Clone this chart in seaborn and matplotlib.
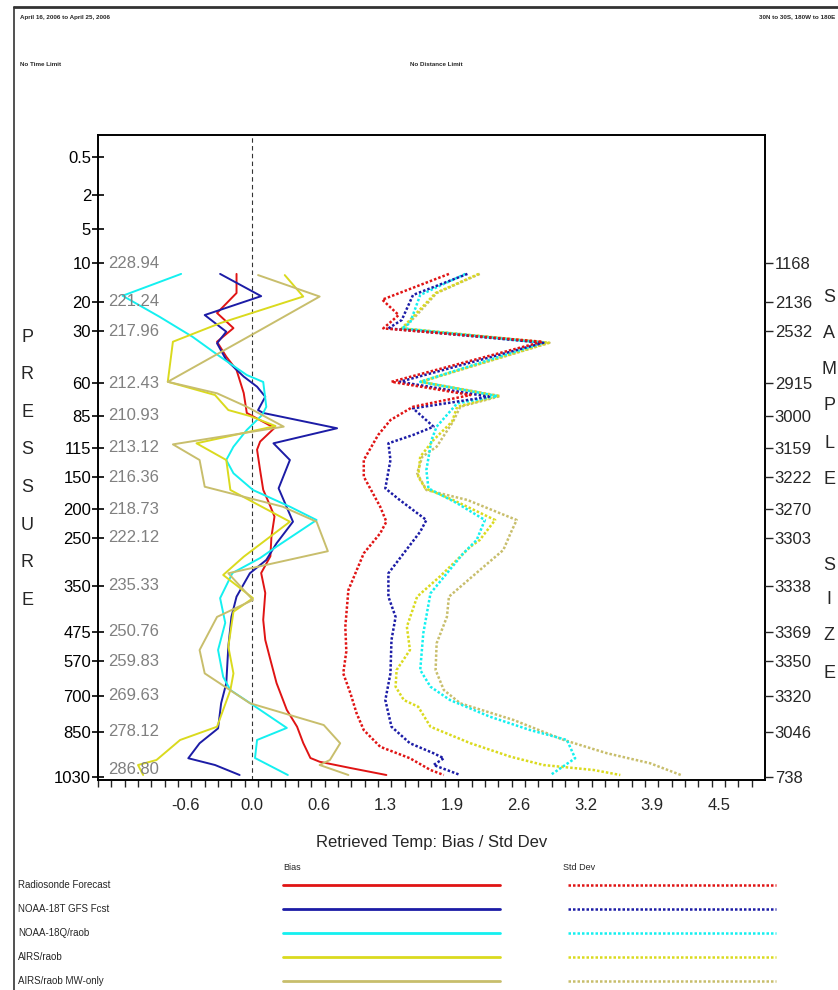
import numpy as np
import pandas as pd
import matplotlib
matplotlib.use("Agg")
import matplotlib.pyplot as plt
import seaborn as sns
from matplotlib.lines import Line2D
from matplotlib.ticker import FixedLocator, FixedFormatter

# pressure levels labelled on the axis, mean temperature and sample size per level
LEVELS = [0.5, 2, 5, 10, 20, 30, 60, 85, 115, 150, 200, 250, 350, 475, 570, 700, 850, 1030]
TEMP_LEVELS = [10, 20, 30, 60, 85, 115, 150, 200, 250, 350, 475, 570, 700, 850, 1030]
MEAN_TEMP = ["228.94", "221.24", "217.96", "212.43", "210.93", "213.12", "216.36", "218.73",
             "222.12", "235.33", "250.76", "259.83", "269.63", "278.12", "286.80"]
SAMPLE_SIZE = [1168, 2136, 2532, 2915, 3000, 3159, 3222, 3270, 3303, 3338, 3369, 3350, 3320, 3046, 738]

SERIES = ["Radiosonde Forecast", "NOAA-18T GFS Fcst", "NOAA-18Q/raob", "AIRS/raob", "AIRS/raob MW-only"]
COLORS = ["#e01414", "#1c1ca6", "#14f0f0", "#dada1e", "#c8be6c"]

X_TICKS = [-1.3, -0.65, 0.0, 0.65, 1.3, 1.95, 2.6, 3.25, 3.9, 4.55]
X_LABELS = ["", "-0.6", "0.0", "0.6", "1.3", "1.9", "2.6", "3.2", "3.9", "4.5"]

# ---- bias profiles (hPa, K) ----
rf_bias_p = [12.8, 17.7, 23.8, 29, 36.2, 44.8, 52.5, 67.6, 82.7, 96.2, 109, 117, 142, 170, 196, 213,
             248, 288, 323, 369, 442, 501, 566, 652, 758, 828, 894, 954, 969, 994, 1022]
rf_bias = [-0.15, -0.15, -0.34, -0.18, -0.34, -0.25, -0.15, -0.08, -0.05, 0.22, 0.08, 0.05, 0.08, 0.11,
           0.18, 0.22, 0.19, 0.18, 0.09, 0.13, 0.11, 0.13, 0.18, 0.24, 0.34, 0.44, 0.50, 0.57, 0.66, 0.96, 1.31]

gfs_bias_p = [12.8, 18.5, 24.5, 30.4, 37.1, 46.7, 56.3, 62.8, 70.4, 80.5, 82.7, 96.5, 110.6, 129.5, 167.7,
              221.9, 261, 295.8, 323.5, 379, 434, 523, 653, 730, 835, 895, 955, 982, 1022]
gfs_bias = [-0.31, 0.09, -0.46, -0.25, -0.34, -0.25, -0.08, 0.05, 0.13, 0.06, 0.11, 0.83, 0.21, 0.37, 0.26,
            0.40, 0.24, 0.14, -0.02, -0.15, -0.20, -0.23, -0.25, -0.30, -0.33, -0.51, -0.62, -0.36, -0.12]

n18q_bias_p = [12.8, 18.4, 25.1, 33.3, 44.8, 55.4, 59.4, 78, 84.2, 98.1, 113.8, 129.5, 145.5, 170.3, 196.4,
               219, 268, 291.7, 323, 383, 450, 534, 629, 678, 729, 833, 882, 954, 1022]
n18q_bias = [-0.69, -1.26, -0.90, -0.58, -0.31, -0.05, 0.11, 0.14, 0.10, -0.05, -0.18, -0.25, -0.18, 0.01, 0.37,
             0.63, 0.24, 0.08, -0.19, -0.31, -0.26, -0.33, -0.28, -0.21, -0.02, 0.34, 0.05, 0.03, 0.35]

airs_bias_p = [13.1, 18.6, 27.3, 36.2, 59.3, 69.1, 80.5, 85, 94.4, 110.6, 129.5, 170.3, 221.9, 289, 327,
               383, 420, 523, 616, 678, 828, 882, 962, 982, 1022]
airs_bias = [0.32, 0.50, -0.31, -0.77, -0.82, -0.36, -0.23, -0.02, 0.23, -0.54, -0.25, -0.21, 0.37, -0.08, -0.28,
             0.01, -0.18, -0.23, -0.18, -0.21, -0.34, -0.70, -0.93, -1.11, -1.06]

mw_bias_p = [13.1, 18.6, 29.1, 59.3, 67.8, 78, 95, 111.6, 129.5, 165.2, 196.4, 221.9, 277.5, 323.5, 388,
             434, 534, 616, 730, 821, 895, 962, 982, 1022]
mw_bias = [0.06, 0.66, 0.11, -0.82, -0.34, -0.05, 0.31, -0.77, -0.51, -0.46, 0.30, 0.63, 0.74, -0.23, 0.01,
           -0.34, -0.51, -0.46, -0.02, 0.70, 0.86, 0.76, 0.66, 0.94]

# ---- std dev profiles (hPa, K) ----
rf_std_p = [12.8, 19.4, 24.5, 29.1, 36.2, 59.3, 69.1, 78, 88.8, 102.8, 129.5, 149.6, 196.4, 221.9, 241.9,
            281.9, 361, 461, 538, 616, 690, 772, 842, 909, 955, 1002, 1022]
rf_std = [1.92, 1.27, 1.43, 1.28, 2.83, 1.36, 2.13, 1.57, 1.35, 1.23, 1.09, 1.09, 1.25, 1.31, 1.25,
          1.09, 0.94, 0.91, 0.92, 0.89, 0.96, 1.02, 1.09, 1.25, 1.54, 1.74, 1.87]

gfs_std_p = [12.8, 18.2, 26.2, 29.1, 36.8, 59.3, 70.4, 79.2, 95, 102.8, 110.6, 129.5, 167.7, 185.9, 219,
             239.1, 323.5, 379, 434, 501, 616, 717, 828, 895, 935, 955, 982, 1022]
gfs_std = [2.10, 1.57, 1.46, 1.33, 2.84, 1.44, 2.31, 1.57, 1.77, 1.57, 1.33, 1.35, 1.30, 1.44, 1.70,
           1.64, 1.33, 1.33, 1.40, 1.36, 1.35, 1.30, 1.36, 1.54, 1.77, 1.87, 1.77, 2.03]

n18q_std_p = [12.8, 18.2, 27.3, 29.1, 36.8, 59.3, 69.9, 75.4, 95, 107.5, 141.6, 167.7, 191.1, 219, 254.2,
              281.9, 369.9, 479.3, 603.4, 665.5, 716.7, 786.3, 841.7, 882, 955, 1022]
n18q_std = [2.08, 1.64, 1.54, 1.46, 2.84, 1.64, 2.39, 2.00, 1.80, 1.75, 1.70, 1.72, 2.00, 2.27, 2.19,
            2.06, 1.74, 1.67, 1.64, 1.74, 1.93, 2.32, 2.71, 3.07, 3.15, 2.91]

airs_std_p = [12.8, 17.7, 25.1, 29.1, 36.8, 59.3, 69.9, 78, 90.3, 107.5, 125.5, 149.6, 167.7, 185.9, 219,
              254.2, 268, 330.6, 379, 460.6, 534, 603.4, 665.5, 716.7, 744.6, 828, 895, 948.8, 982, 1002, 1022]
airs_std = [2.21, 1.79, 1.57, 1.46, 2.89, 1.64, 2.40, 2.00, 1.95, 1.77, 1.64, 1.62, 1.69, 1.96, 2.37,
            2.22, 2.13, 1.83, 1.61, 1.51, 1.54, 1.41, 1.40, 1.48, 1.62, 1.74, 2.13, 2.52, 2.84, 3.33, 3.59]

mw_std_p = [12.8, 17.7, 25.1, 29.1, 36.8, 59.3, 69.9, 78, 90.3, 113.8, 125.5, 145.5, 170.3, 185.9, 219,
            241.9, 275, 309.6, 379, 434, 512, 603.4, 677.7, 730.4, 800, 882, 935, 975, 1022]
mw_std = [2.22, 1.80, 1.59, 1.47, 2.90, 1.65, 2.42, 2.03, 1.96, 1.80, 1.66, 1.61, 1.70, 2.10, 2.58,
          2.52, 2.45, 2.26, 1.92, 1.90, 1.80, 1.79, 1.87, 2.03, 2.55, 3.04, 3.46, 3.88, 4.18]


def profile_frame(pairs):
    rows = []
    for name, (p, v) in zip(SERIES, pairs):
        rows.append(pd.DataFrame({"series": name, "pressure": p, "value": v}))
    return pd.concat(rows, ignore_index=True)


bias_df = profile_frame([(rf_bias_p, rf_bias), (gfs_bias_p, gfs_bias), (n18q_bias_p, n18q_bias),
                         (airs_bias_p, airs_bias), (mw_bias_p, mw_bias)])
std_df = profile_frame([(rf_std_p, rf_std), (gfs_std_p, gfs_std), (n18q_std_p, n18q_std),
                        (airs_std_p, airs_std), (mw_std_p, mw_std)])
palette = dict(zip(SERIES, COLORS))

# pressure axis spacing of the original plot (stretched, neither log nor linear)
AX_P = [0, 0.5, 2, 5, 10, 20, 30, 60, 85, 115, 150, 200, 250, 350, 475, 570, 700, 850, 1030, 1042]
AX_H = [135, 157, 195, 229, 263, 302, 331, 383, 416, 448, 477, 509, 538, 586, 632, 661, 696, 732, 777, 780]


def p_forward(p):
    return np.interp(p, AX_P, AX_H)


def p_inverse(h):
    return np.interp(h, AX_H, AX_P)


sns.set_style("white")
plt.rcParams["font.family"] = ["Liberation Sans Narrow", "Liberation Sans", "DejaVu Sans"]

W, H = 838, 990
fig = plt.figure(figsize=(W / 100, H / 100), dpi=100)


def fx(x):
    return x / W


def fy(y):
    return 1 - y / H


ax = fig.add_axes([fx(98), fy(780), fx(765 - 98), (780 - 135) / H])

sns.lineplot(data=bias_df, x="value", y="pressure", hue="series", hue_order=SERIES, palette=palette,
             sort=False, estimator=None, legend=False, linewidth=1.4, ax=ax)
sns.lineplot(data=std_df, x="value", y="pressure", hue="series", hue_order=SERIES[::-1], palette=palette,
             sort=False, estimator=None, legend=False, linewidth=1.8, linestyle=(0, (1, 0.8)), ax=ax)

ax.axvline(0, color="#333333", linestyle=(0, (4, 3)), linewidth=0.8, zorder=0)

ax.set_yscale("function", functions=(p_forward, p_inverse))
ax.set_ylim(1042, 0)
ax.set_xlim(-1.5, 5.0)

ax.yaxis.set_major_locator(FixedLocator(LEVELS))
ax.yaxis.set_major_formatter(FixedFormatter([f"{l:g}" for l in LEVELS]))
ax.yaxis.set_minor_locator(FixedLocator([]))
ax.tick_params(axis="y", which="major", direction="inout", length=8, width=1.2, labelsize=12, pad=1,
               colors="black")

ax.xaxis.set_major_locator(FixedLocator(X_TICKS))
ax.xaxis.set_major_formatter(FixedFormatter(X_LABELS))
ax.xaxis.set_minor_locator(FixedLocator(np.arange(-1.5, 5.0, 0.13)))
ax.tick_params(axis="x", which="major", direction="out", length=9, width=1.6, labelsize=12, pad=4)
ax.tick_params(axis="x", which="minor", direction="out", length=5, width=1.0, bottom=True)
ax.set_xlabel("Retrieved Temp: Bias / Std Dev", fontsize=12, labelpad=16)
ax.set_ylabel("")

for s in ax.spines.values():
    s.set_linewidth(1.4)
    s.set_color("black")

# mean temperature per level, inside the frame
tr = ax.get_yaxis_transform()
for lev, t in zip(TEMP_LEVELS, MEAN_TEMP):
    ax.text(0.015, lev, t, transform=tr, ha="left", va="bottom" if lev == 1030 else "center",
            fontsize=12, color="#808080")

# sample size on the right
ax2 = ax.twinx()
ax2.set_yscale("function", functions=(p_forward, p_inverse))
ax2.set_ylim(1042, 0)
ax2.yaxis.set_major_locator(FixedLocator(TEMP_LEVELS))
ax2.yaxis.set_major_formatter(FixedFormatter([str(n) for n in SAMPLE_SIZE]))
ax2.yaxis.set_minor_locator(FixedLocator([]))
ax2.tick_params(axis="y", direction="out", length=6, width=1.0, labelsize=12, pad=1)
for s in ax2.spines.values():
    s.set_visible(False)

# stacked axis titles
for i, ch in enumerate("PRESSURE"):
    fig.text(fx(27), fy(337 + i * 37.6), ch, ha="center", va="center", fontsize=13)
for ch, y in zip("SAMPLESIZE", [297, 333, 370, 406, 443, 480, 565, 600, 636, 673]):
    fig.text(fx(829), fy(y), ch, ha="center", va="center", fontsize=13)

# header
fig.text(fx(20), fy(17), "April 16, 2006 to April 25, 2006", fontsize=4.5, fontweight="bold", va="center")
fig.text(fx(20), fy(65), "No Time Limit", fontsize=4.5, fontweight="bold", va="center")
fig.text(fx(410), fy(65), "No Distance Limit", fontsize=4.5, fontweight="bold", va="center")
fig.text(fx(835), fy(17), "30N to 30S, 180W to 180E", fontsize=4.5, fontweight="bold", va="center",
         ha="right")
fig.add_artist(Line2D([fx(14), 1], [fy(7), fy(7)], color="#333333", linewidth=2, transform=fig.transFigure))
fig.add_artist(Line2D([fx(14), fx(14)], [0, fy(7)], color="#333333", linewidth=1.2, transform=fig.transFigure))

# legend
fig.text(fx(283), fy(868), "Bias", fontsize=6.5, va="center")
fig.text(fx(563), fy(868), "Std Dev", fontsize=6.5, va="center")
for i, (name, col) in enumerate(zip(SERIES, COLORS)):
    y = 885 + i * 24
    fig.text(fx(18), fy(y), name, fontsize=7, va="center")
    fig.add_artist(Line2D([fx(283), fx(500)], [fy(y), fy(y)], color=col, linewidth=2,
                          transform=fig.transFigure))
    fig.add_artist(Line2D([fx(568), fx(776)], [fy(y), fy(y)], color=col, linewidth=1.8,
                          linestyle=(0, (1, 0.8)), transform=fig.transFigure))

fig.savefig("out.png", dpi=100)
